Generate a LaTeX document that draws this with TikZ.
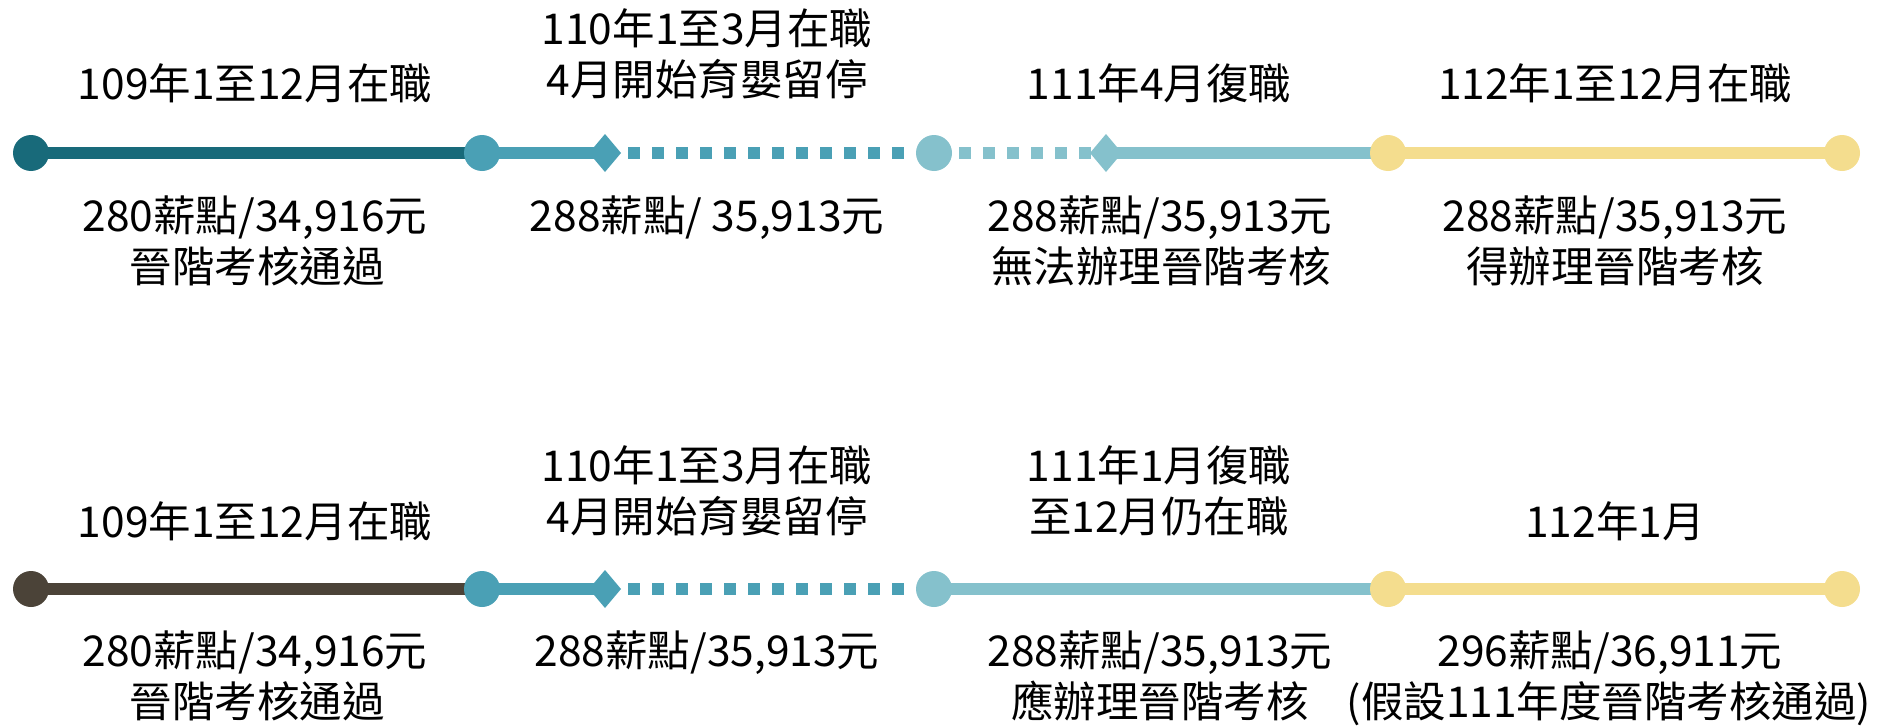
\documentclass[tikz,border=0pt]{standalone}
\usepackage{fontspec}
\setmainfont{Noto Sans CJK TC}
\usetikzlibrary{backgrounds}
\definecolor{darkteal}{HTML}{186A7A}
\definecolor{midteal}{HTML}{4AA0B5}
\definecolor{lightteal}{HTML}{85C1CC}
\definecolor{sand}{HTML}{F4DD8E}
\definecolor{umber}{HTML}{4B4338}
\begin{document}
\begin{tikzpicture}[x=1pt,y=-1pt,
  dot/.style={circle,fill=#1,minimum size=36pt,inner sep=0pt},
  gem/.style={rectangle,minimum width=30pt,minimum height=36pt,inner sep=0pt},
  seg/.style={line width=12pt,draw=#1},
  dashseg/.style={line width=12pt,draw=#1,dash pattern=on 12pt off 12pt},
  lbl/.style={font=\fontsize{42.5}{51}\selectfont,inner sep=0pt,anchor=base}]
\useasboundingbox (0,0) rectangle (1883,728);

% ---- top timeline ----
\node[dot=darkteal]  (a1) at (31,153) {};
\node[dot=midteal]   (a2) at (482,153) {};
\node[gem]           (ad1) at (605,153) {};
\node[dot=lightteal] (a3) at (934,153) {};
\node[gem]           (ad2) at (1106,153) {};
\node[dot=sand]      (a4) at (1388,153) {};
\node[dot=sand]      (a5) at (1842,153) {};
\fill[midteal] (ad1.center) ++(-16,0) -- ++(16,-19) -- ++(16,19) -- ++(-16,19) -- cycle;
\fill[lightteal] (ad2.center) ++(-16,0) -- ++(16,-19) -- ++(16,19) -- ++(-16,19) -- cycle;
\begin{scope}[on background layer]
\draw[seg=darkteal] (a1.center) -- (a2.center);
\draw[seg=midteal] (a2.center) -- (ad1.center);
\draw[dashseg=midteal,shorten <=8pt] (ad1.east) -- (a3.west);
\draw[dashseg=lightteal,shorten <=7pt] (a3.east) -- (ad2.west);
\draw[seg=lightteal] (ad2.center) -- (a4.center);
\draw[seg=sand] (a4.center) -- (a5.center);
\end{scope}

% ---- bottom timeline ----
\node[dot=umber]     (b1) at (31,589) {};
\node[dot=midteal]   (b2) at (482,589) {};
\node[gem]           (bd1) at (605,589) {};
\node[dot=lightteal] (b3) at (934,589) {};
\node[dot=sand]      (b4) at (1388,589) {};
\node[dot=sand]      (b5) at (1842,589) {};
\fill[midteal] (bd1.center) ++(-16,0) -- ++(16,-19) -- ++(16,19) -- ++(-16,19) -- cycle;
\begin{scope}[on background layer]
\draw[seg=umber] (b1.center) -- (b2.center);
\draw[seg=midteal] (b2.center) -- (bd1.center);
\draw[dashseg=midteal,shorten <=8pt] (bd1.east) -- (b3.west);
\draw[seg=lightteal] (b3.center) -- (b4.center);
\draw[seg=sand] (b4.center) -- (b5.center);
\end{scope}

% ---- top labels ----
\node[lbl] (t1) at (255,99) {109年1至12月在職};
\node[lbl] (t2a) at (707,44) {110年1至3月在職};
\node[lbl] (t2b) at (707,95) {4月開始育嬰留停};
\node[lbl] (t3) at (1159,99) {111年4月復職};
\node[lbl] (t4) at (1615,99) {112年1至12月在職};

\node[lbl] (u1a) at (255,231) {280薪點/34,916元};
\node[lbl] (u1b) at (257,282) {晉階考核通過};
\node[lbl] (u2a) at (707,231) {288薪點/ 35,913元};
\node[lbl] (u3a) at (1160,231) {288薪點/35,913元};
\node[lbl] (u3b) at (1161,282) {無法辦理晉階考核};
\node[lbl] (u4a) at (1615,231) {288薪點/35,913元};
\node[lbl] (u4b) at (1615,282) {得辦理晉階考核};

% ---- bottom labels ----
\node[lbl] (s1) at (255,537) {109年1至12月在職};
\node[lbl] (s2a) at (707,481) {110年1至3月在職};
\node[lbl] (s2b) at (707,532) {4月開始育嬰留停};
\node[lbl] (s3a) at (1159,481) {111年1月復職};
\node[lbl] (s3b) at (1159,532) {至12月仍在職};
\node[lbl] (s4) at (1615,537) {112年1月};

\node[lbl] (v1a) at (255,666) {280薪點/34,916元};
\node[lbl] (v1b) at (257,717) {晉階考核通過};
\node[lbl] (v2a) at (707,666) {288薪點/35,913元};
\node[lbl] (v3a) at (1160,666) {288薪點/35,913元};
\node[lbl] (v3b) at (1160,717) {應辦理晉階考核};
\node[lbl] (v4a) at (1610,666) {296薪點/36,911元};
\node[lbl] (v4b) at (1609,717) {(假設111年度晉階考核通過)};
\end{tikzpicture}
\end{document}
